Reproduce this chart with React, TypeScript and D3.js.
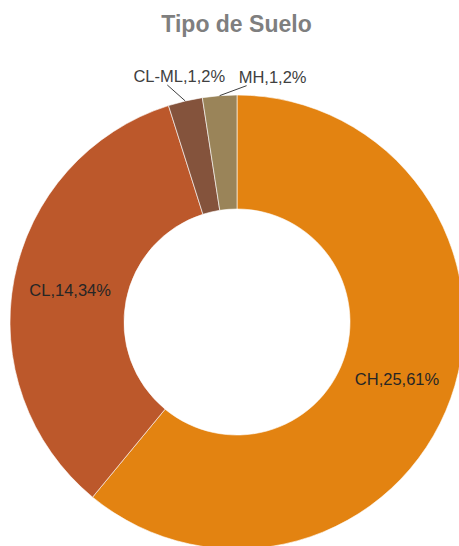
import React from "react";
import * as d3 from "d3";

const categories = ["CH", "CL", "CL-ML", "MH"];
const counts = [25, 14, 1, 1];
const percents = ["61%", "34%", "2%", "2%"];
const colors = ["#E38311", "#BC582B", "#84533C", "#9A8459"];
const title = "Tipo de Suelo";

const W = 459;
const H = 546;
const cx = 237;
const cy = 322;
const outerR = 227;
const innerR = 113;

export default function App() {
  const pie = d3.pie<number>().sort(null).value((d) => d)(counts);
  const arc = d3.arc<d3.PieArcDatum<number>>().innerRadius(innerR).outerRadius(outerR);
  const outerArc = d3.arc<d3.PieArcDatum<number>>().innerRadius(outerR).outerRadius(outerR);
  const font = "'Liberation Sans', Arial, sans-serif";

  return (
    <svg
      width={W}
      height={H}
      style={{ position: "absolute", left: 0, top: 0, background: "#fff" }}
    >
      <text
        x={236.5}
        y={32}
        textAnchor="middle"
        fontFamily={font}
        fontWeight="bold"
        fontSize={23}
        fill="#7F7F7F"
      >
        {title}
      </text>
      <g transform={`translate(${cx},${cy})`}>
        {pie.map((p, i) => (
          <path key={i} d={arc(p) || ""} fill={colors[i]} stroke="#fff" strokeWidth={0.6} />
        ))}
        {pie.map((p, i) => {
          const label = `${categories[i]},${counts[i]},${percents[i]}`;
          if (counts[i] >= 5) {
            const [x, y] = arc.centroid(p);
            return (
              <text
                key={"l" + i}
                x={x}
                y={y + 6}
                textAnchor="middle"
                fontFamily={font}
                fontSize={16.5}
                fill="#262626"
              >
                {label}
              </text>
            );
          }
          const [ox, oy] = outerArc.centroid(p);
          const small = i === 2;
          const ex = small ? ox - 18 : ox + 27;
          const ey = small ? oy - 16 : oy - 10;
          const tx = small ? ex + 12 : ex + 26;
          return (
            <g key={"l" + i}>
              <line x1={ox} y1={oy} x2={ex} y2={ey} stroke="#404040" strokeWidth={1} />
              <text
                x={tx}
                y={ey - 3}
                textAnchor="middle"
                fontFamily={font}
                fontSize={16.5}
                fill="#404040"
              >
                {label}
              </text>
            </g>
          );
        })}
      </g>
    </svg>
  );
}
